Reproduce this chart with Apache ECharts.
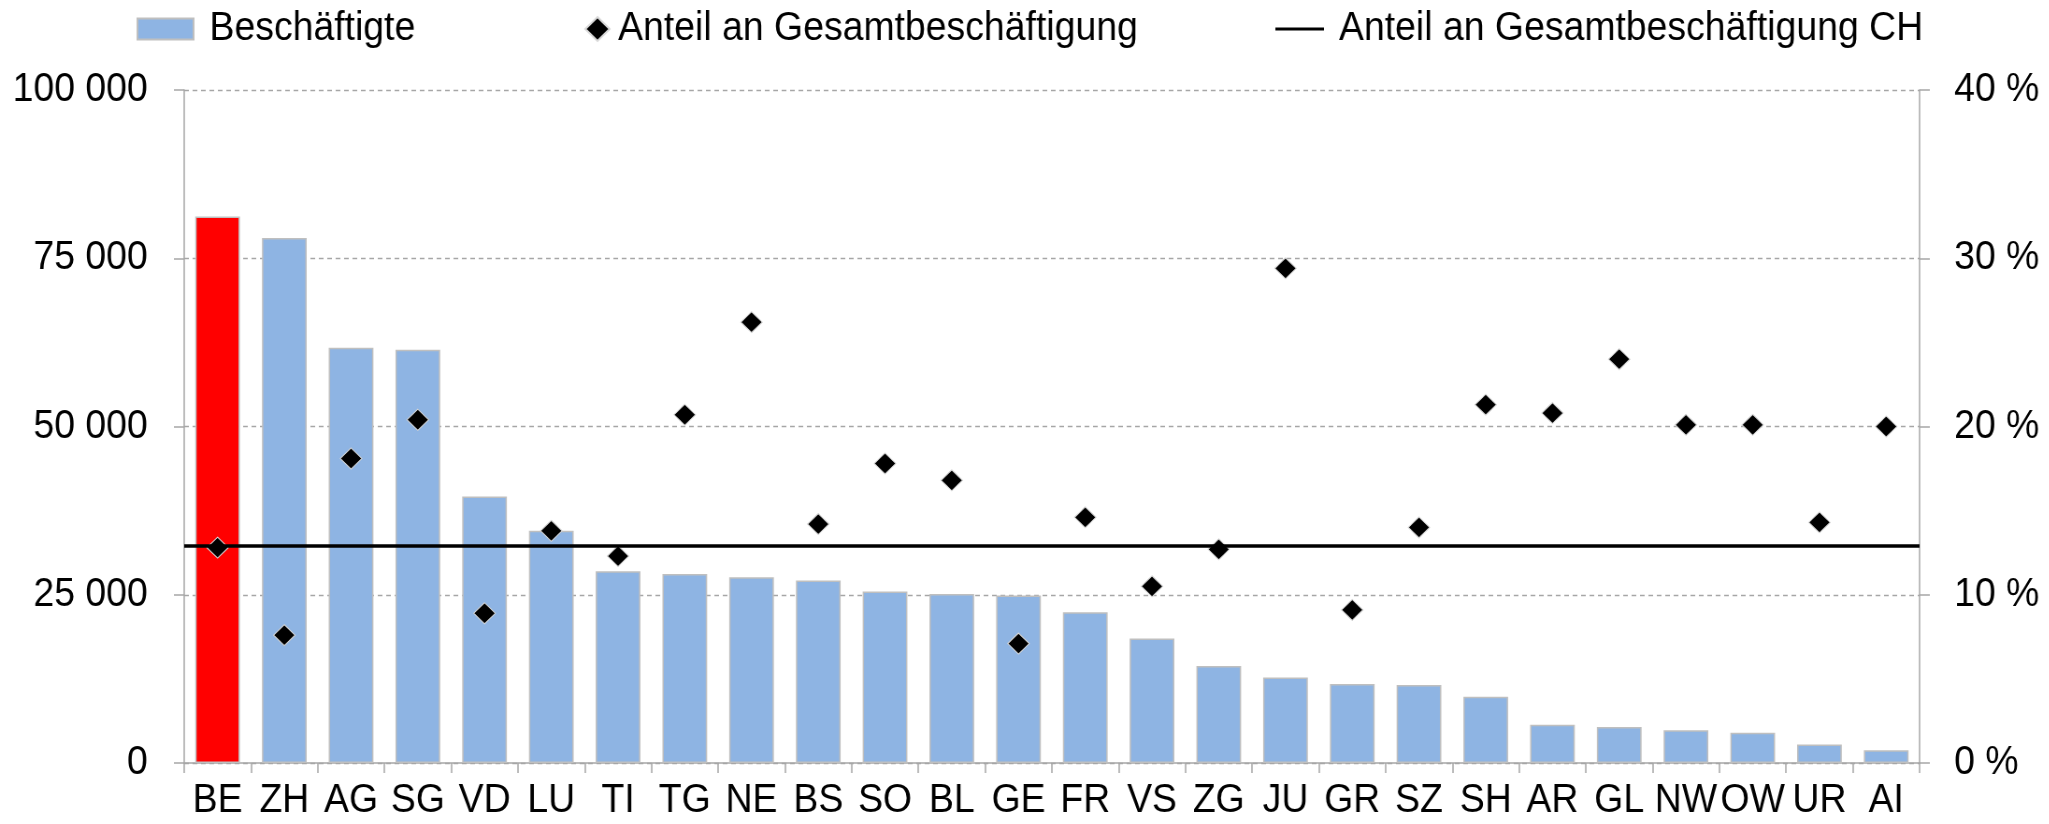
<!DOCTYPE html>
<html>
<head>
<meta charset="utf-8">
<script src="https://cdn.jsdelivr.net/npm/echarts@6/dist/echarts.min.js"></script>
<style>
    html, body {
        margin: 0;
        padding: 0;
        background: #fff;
        overflow: hidden;
    }
    /* Schrift der Vorlage ist leicht schmal: breiter zeichnen, dann auf 2049 stauchen */
    #chart {
        width: 2191px;
        height: 824px;
        transform: scaleX(0.935);
        transform-origin: 0 0;
    }
</style>
</head>
<body>
<div id="chart"></div>
<script>
// Kantone
const cantons = ['BE', 'ZH', 'AG', 'SG', 'VD', 'LU', 'TI', 'TG', 'NE', 'BS', 'SO', 'BL', 'GE',
    'FR', 'VS', 'ZG', 'JU', 'GR', 'SZ', 'SH', 'AR', 'GL', 'NW', 'OW', 'UR', 'AI']
// Beschäftigte
const employed = [81200, 78000, 61700, 61400, 39600, 34500, 28500, 28100, 27600, 27100, 25500, 25100, 24900,
    22400, 18500, 14400, 12700, 11750, 11600, 9850, 5700, 5350, 4850, 4500, 2750, 1900]
// Anteil an Gesamtbeschäftigung in %
const share = [12.8, 7.6, 18.1, 20.4, 8.9, 13.8, 12.3, 20.7, 26.2, 14.2, 17.8, 16.8, 7.1,
    14.6, 10.5, 12.7, 29.4, 9.1, 14.0, 21.3, 20.8, 24.0, 20.1, 20.1, 14.3, 20.0]
// Anteil CH
const shareCH = 12.9
// Achsen
const leftTicks = [0, 25000, 50000, 75000, 100000]
const rightTicks = [0, 10, 20, 30, 40]

const font = 'Liberation Sans, Arial, sans-serif'
const fontSize = 40
const axisGray = '#a6a6a6'

let chart = echarts.init(document.getElementById('chart'))

const barData = employed.map((v, i) => {
    // Bern hervorgehoben
    if (cantons[i] === 'BE') {
        return { value: v, itemStyle: { color: '#ff0000' } }
    }
    return v
})

const legendText = pad => ({ fontSize: fontSize, color: '#000', fontFamily: font, padding: [0, 0, 0, pad] })

chart.setOption({
    animation: false,
    textStyle: { fontFamily: font },
    legend: [
        {
            data: ['Beschäftigte'],
            left: 146,
            top: 9,
            padding: 0,
            icon: 'rect',
            itemWidth: 60,
            itemHeight: 21,
            selectedMode: false,
            textStyle: legendText(12)
        },
        {
            data: ['Anteil an Gesamtbeschäftigung'],
            left: 625,
            top: 9,
            padding: 0,
            icon: 'diamond',
            itemWidth: 26,
            itemHeight: 24,
            selectedMode: false,
            textStyle: legendText(4)
        },
        {
            data: ['Anteil an Gesamtbeschäftigung CH'],
            left: 1364,
            top: 9,
            padding: 0,
            icon: 'path://M0,0H52V3H0Z',
            itemWidth: 52,
            itemHeight: 3,
            selectedMode: false,
            textStyle: legendText(11)
        }
    ],
    grid: {
        left: 197,
        right: 138,
        top: 90,
        bottom: 61,
        containLabel: false
    },
    xAxis: {
        type: 'category',
        data: cantons,
        axisLine: { lineStyle: { color: axisGray, width: 1.5 } },
        axisTick: { show: true, length: 10, lineStyle: { color: axisGray, width: 1.5 } },
        axisLabel: { interval: 0, fontSize: fontSize, color: '#000', margin: 18, fontFamily: font }
    },
    yAxis: [
        {
            type: 'value',
            min: leftTicks[0],
            max: leftTicks[leftTicks.length - 1],
            interval: 25000,
            axisLine: { show: true, lineStyle: { color: axisGray, width: 1.5 } },
            axisTick: { show: true, length: 11, lineStyle: { color: axisGray, width: 1.5 } },
            axisLabel: {
                fontSize: fontSize,
                color: '#000',
                margin: 39,
                fontFamily: font,
                formatter: v => String(v).replace(/\B(?=(\d{3})+(?!\d))/g, ' ')
            },
            splitLine: { lineStyle: { color: axisGray, type: [5, 4], width: 1.3 } }
        },
        {
            type: 'value',
            position: 'right',
            min: rightTicks[0],
            max: rightTicks[rightTicks.length - 1],
            interval: 10,
            axisLine: { show: true, lineStyle: { color: axisGray, width: 1.5 } },
            axisTick: { show: true, length: 11, lineStyle: { color: axisGray, width: 1.5 } },
            axisLabel: { fontSize: fontSize, color: '#000', margin: 37, fontFamily: font, formatter: '{value} %' },
            splitLine: { show: false }
        }
    ],
    series: [
        {
            name: 'Beschäftigte',
            type: 'bar',
            data: barData,
            barWidth: '67%',
            itemStyle: { color: '#8eb4e3', borderColor: '#bfbfbf', borderWidth: 1.5 },
            z: 2
        },
        {
            name: 'Anteil an Gesamtbeschäftigung CH',
            type: 'line',
            yAxisIndex: 1,
            data: [],
            itemStyle: { color: '#000' },
            lineStyle: { color: '#000', width: 3 },
            markLine: {
                silent: true,
                symbol: 'none',
                label: { show: false },
                lineStyle: { color: '#000', width: 3.5, type: 'solid' },
                data: [{ yAxis: shareCH }]
            },
            z: 3
        },
        {
            name: 'Anteil an Gesamtbeschäftigung',
            type: 'scatter',
            yAxisIndex: 1,
            data: share,
            symbol: 'diamond',
            symbolSize: [23, 21],
            // scatter hat standardmässig 0.8 Deckkraft
            itemStyle: { color: '#000', opacity: 1, borderColor: '#d9d9d9', borderWidth: 1 },
            z: 4
        }
    ]
})
</script>
</body>
</html>
